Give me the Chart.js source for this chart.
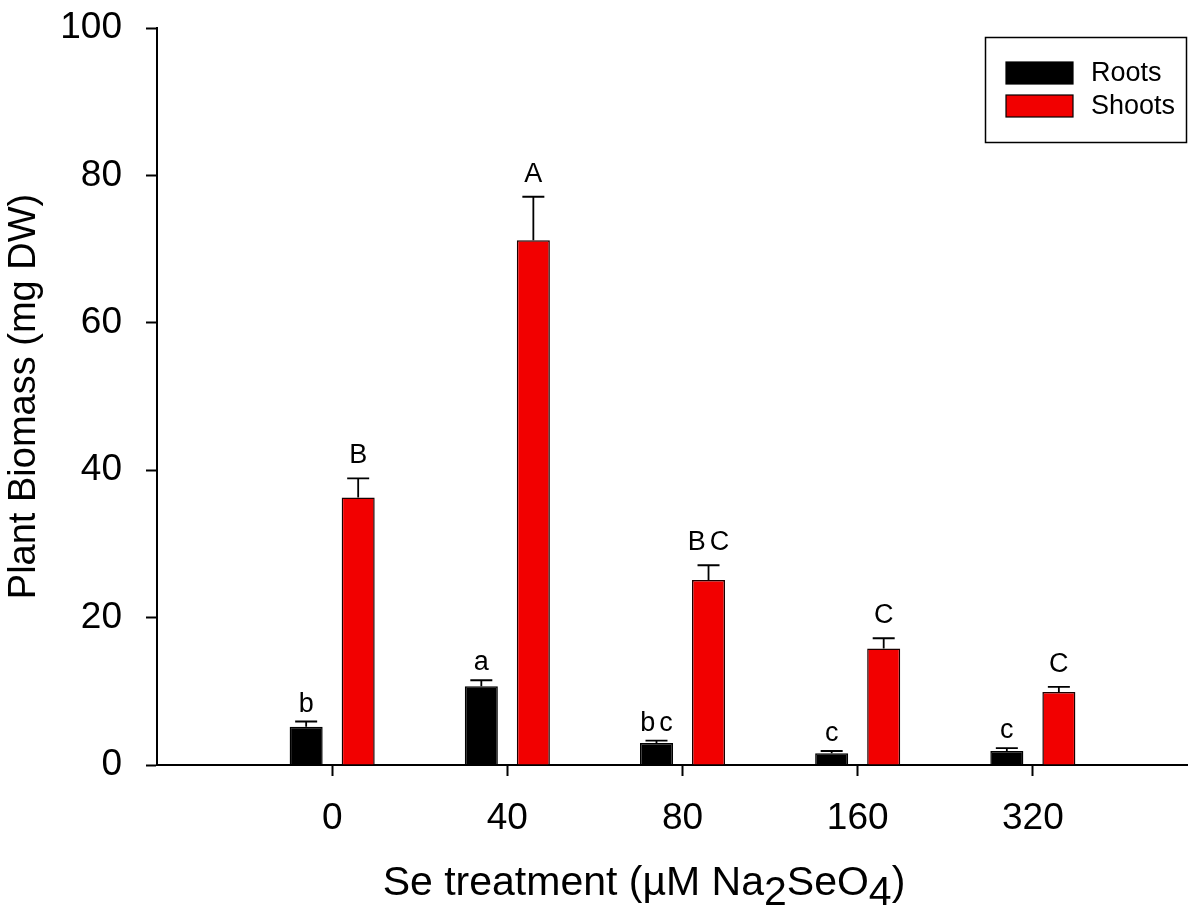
<!DOCTYPE html>
<html>
<head>
<meta charset="utf-8">
<title>Plant biomass under Se treatment</title>
<script src="https://cdn.jsdelivr.net/npm/chart.js@4.4.1/dist/chart.umd.min.js"></script>
<style>
  html, body { margin: 0; padding: 0; background: #ffffff; }
  canvas { display: block; }
</style>
</head>
<body>
<canvas id="biomass" width="1202" height="912"></canvas>
<script>
// Se treatment levels (µM Na2SeO4)
const treatments = ['0', '40', '80', '160', '320'];

// Dry weight (mg DW), mean and standard error
const rootsMean  = [5.2, 10.7, 3.0, 1.6, 1.9];
const rootsSE    = [0.7, 0.8, 0.3, 0.3, 0.4];
const shootsMean = [36.3, 71.2, 25.1, 15.8, 9.9];
const shootsSE   = [2.6, 5.9, 2.0, 1.4, 0.7];

// Significance groups
const rootsGroups  = ['b', 'a', 'bc', 'c', 'c'];
const shootsGroups = ['B', 'A', 'BC', 'C', 'C'];

// Axis text
const yTitle = 'Plant Biomass (mg DW)';
// x title pieces: [text, lowered?]
const xTitleParts = [['Se treatment (µM Na', false], ['2', true], ['SeO', false], ['4', true], [')', false]];

const FONT = '"Liberation Sans", Arial, Helvetica, sans-serif';
Chart.defaults.color = '#000';
Chart.defaults.font.family = FONT;

const toPoints = (vals) => vals.map((v, i) => ({ x: i + 1, y: v }));

// Upward error bars with group letters above each bar
const errorBars = {
  id: 'errorBars',
  afterDatasetsDraw(chart) {
    const ctx = chart.ctx;
    const yScale = chart.scales.y;
    chart.data.datasets.forEach((ds, di) => {
      const meta = chart.getDatasetMeta(di);
      meta.data.forEach((bar, i) => {
        const val = ds.data[i].y;
        const capY = yScale.getPixelForValue(val + ds.errors[i]);
        ctx.save();
        ctx.strokeStyle = '#000';
        ctx.lineWidth = 1.8;
        ctx.beginPath();
        ctx.moveTo(bar.x, bar.y);
        ctx.lineTo(bar.x, capY);
        ctx.moveTo(bar.x - 11, capY);
        ctx.lineTo(bar.x + 11, capY);
        ctx.stroke();
        const g = ds.groups[i];
        const upper = g === g.toUpperCase();
        ctx.fillStyle = '#000';
        ctx.font = '27px ' + FONT;
        ctx.textAlign = 'center';
        ctx.textBaseline = 'alphabetic';
        ctx.letterSpacing = g.length > 1 ? '4px' : '0px';
        ctx.fillText(g, bar.x + (g.length > 1 ? 2 : 0), capY - (upper ? 15 : 10));
        ctx.restore();
      });
    });
  }
};

// Boxed legend in the upper right of the plot area
const boxedLegend = {
  id: 'boxedLegend',
  afterDraw(chart) {
    const ctx = chart.ctx;
    const area = chart.chartArea;
    const w = 202, h = 106;
    const left = area.right - w, top = area.top + 9;
    ctx.save();
    ctx.fillStyle = '#fff';
    ctx.fillRect(left, top, w, h);
    ctx.strokeStyle = '#000';
    ctx.lineWidth = 1.5;
    ctx.strokeRect(left + 0.5, top + 0.5, w - 1, h - 1);
    chart.data.datasets.forEach((ds, i) => {
      const ry = top + 25 + i * 33;
      ctx.fillStyle = ds.backgroundColor;
      ctx.fillRect(left + 21, ry, 67, 22);
      ctx.strokeStyle = '#000';
      ctx.lineWidth = 1.2;
      ctx.strokeRect(left + 21, ry, 67, 22);
      ctx.fillStyle = '#000';
      ctx.font = '27px ' + FONT;
      ctx.textAlign = 'left';
      ctx.textBaseline = 'middle';
      ctx.fillText(ds.label, left + 106, ry + 12);
    });
    ctx.restore();
  }
};

// x-axis title with lowered formula digits
const xAxisTitle = {
  id: 'xAxisTitle',
  afterDraw(chart) {
    const ctx = chart.ctx;
    const area = chart.chartArea;
    ctx.save();
    ctx.font = '41px ' + FONT;
    ctx.fillStyle = '#000';
    ctx.textAlign = 'left';
    ctx.textBaseline = 'alphabetic';
    const total = xTitleParts.reduce((s, p) => s + ctx.measureText(p[0]).width, 0);
    let x = area.left + 487 - total / 2;
    const base = area.bottom + 130;
    xTitleParts.forEach(([txt, low]) => {
      ctx.fillText(txt, x, base + (low ? 10 : 0));
      x += ctx.measureText(txt).width;
    });
    ctx.restore();
  }
};

new Chart(document.getElementById('biomass'), {
  type: 'bar',
  data: {
    datasets: [
      {
        label: 'Roots',
        data: toPoints(rootsMean),
        errors: rootsSE,
        groups: rootsGroups,
        backgroundColor: '#000000',
        borderColor: '#000000',
        borderWidth: 1.5
      },
      {
        label: 'Shoots',
        data: toPoints(shootsMean),
        errors: shootsSE,
        groups: shootsGroups,
        backgroundColor: '#f20000',
        borderColor: '#1a0000',
        borderWidth: 1.5
      }
    ]
  },
  options: {
    responsive: false,
    animation: false,
    devicePixelRatio: 1,
    categoryPercentage: 0.594,
    barPercentage: 0.635,
    layout: { padding: { top: 28, right: 15, left: 0, bottom: 0 } },
    plugins: {
      legend: { display: false },
      tooltip: { enabled: false }
    },
    scales: {
      x: {
        type: 'linear',
        min: 0,
        max: 5.88,
        offset: false,
        afterBuildTicks: (scale) => {
          scale.ticks = treatments.map((_, i) => ({ value: i + 1 }));
        },
        afterFit: (scale) => {
          scale.height = 147;
          scale.paddingLeft = 0;
          scale.paddingRight = 0;
        },
        ticks: {
          callback: (v) => treatments[v - 1],
          font: { size: 37, family: FONT },
          color: '#000',
          padding: 21,
          maxRotation: 0,
          autoSkip: false
        },
        grid: {
          display: true,
          offset: false,
          drawOnChartArea: false,
          drawTicks: true,
          tickLength: 11,
          tickWidth: 2,
          tickColor: '#000'
        },
        border: { display: true, color: '#000', width: 2 }
      },
      y: {
        min: 0,
        max: 100,
        afterFit: (scale) => {
          scale.width = 157;
          scale.paddingTop = 0;
          scale.paddingBottom = 0;
        },
        ticks: {
          stepSize: 20,
          font: { size: 37, family: FONT },
          color: '#000',
          padding: 24
        },
        grid: {
          display: true,
          drawOnChartArea: false,
          drawTicks: true,
          tickLength: 11,
          tickWidth: 2,
          tickColor: '#000'
        },
        border: { display: true, color: '#000', width: 2 },
        title: {
          display: true,
          text: yTitle,
          font: { size: 38, family: FONT },
          color: '#000',
          padding: { top: 2, bottom: 0 }
        }
      }
    }
  },
  plugins: [errorBars, boxedLegend, xAxisTitle]
});
</script>
</body>
</html>
